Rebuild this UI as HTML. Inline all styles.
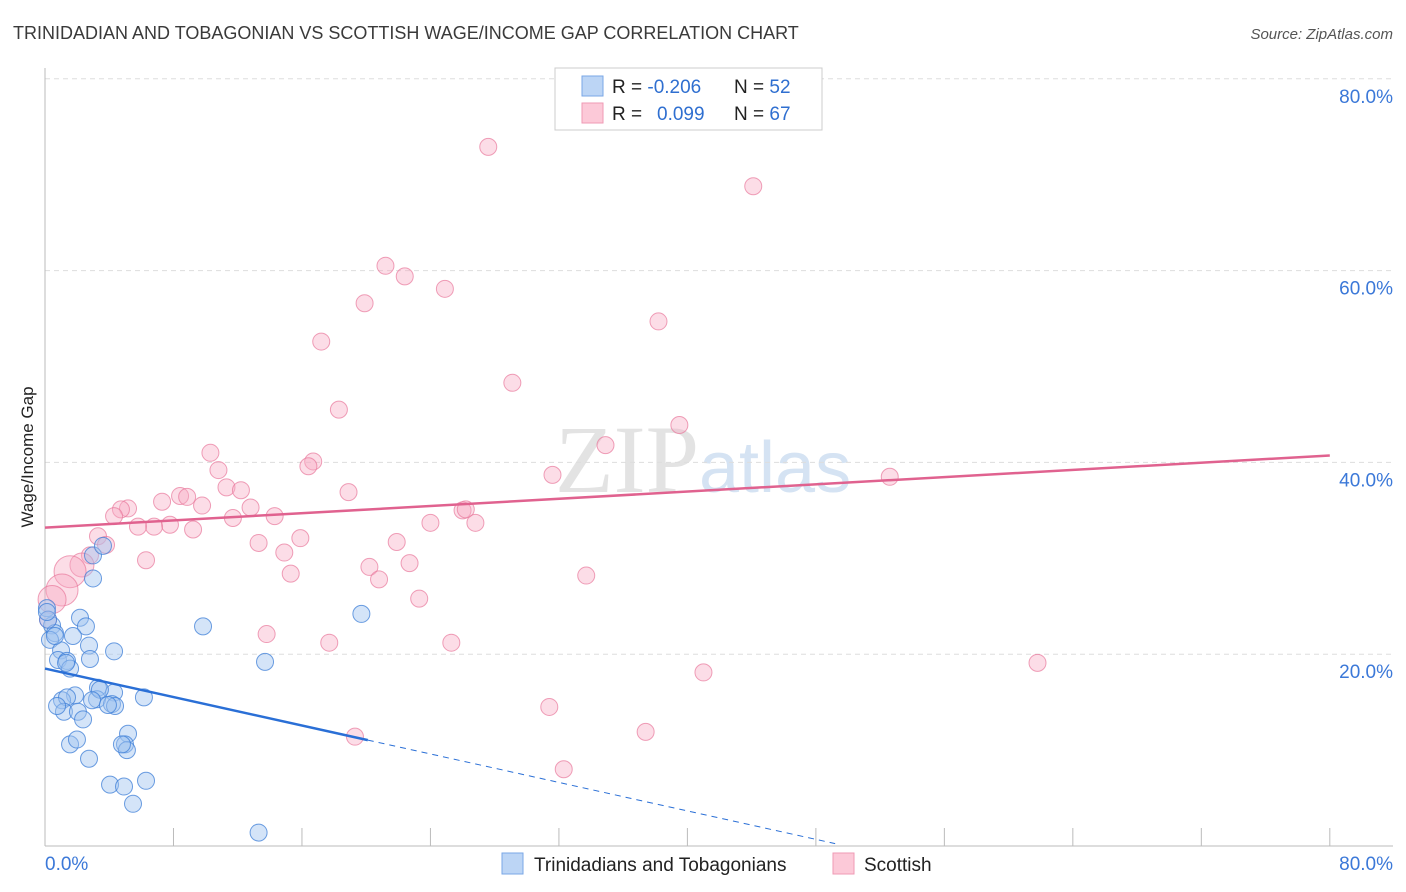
<!DOCTYPE html>
<html><head><meta charset="utf-8">
<style>
body{margin:0;background:#fff;font-family:"Liberation Sans",sans-serif;}
svg{display:block}
</style></head>
<body>
<svg id="chart" width="1406" height="892" viewBox="0 0 1406 892" xmlns="http://www.w3.org/2000/svg">
<text x="13" y="39" font-size="18" fill="#3a3a3a" font-family="Liberation Sans, sans-serif">TRINIDADIAN AND TOBAGONIAN VS SCOTTISH WAGE/INCOME GAP CORRELATION CHART</text>
<text x="1393" y="39" font-size="15" fill="#555" font-style="italic" text-anchor="end">Source: ZipAtlas.com</text>
<text x="555" y="492" font-size="96" fill="#e3e3e3" font-family="Liberation Serif, serif">ZIP<tspan fill="#d5e3f3" font-family="Liberation Sans, sans-serif" font-size="72">atlas</tspan></text>
<g id="grid"></g>
<g id="axes"></g>
<g id="marks"></g>
<text transform="translate(33,457) rotate(-90)" font-size="17" fill="#222" text-anchor="middle">Wage/Income Gap</text>
<g>
<rect x="555" y="68" width="267" height="62" fill="#fff" stroke="#ccc"/>
<rect x="582" y="76" width="21" height="20" fill="#bcd5f5" stroke="#7aa7e6"/>
<rect x="582" y="103" width="21" height="20" fill="#fcc9d8" stroke="#ef9ab4"/>
<text x="612" y="93" font-size="19" fill="#222">R = <tspan fill="#2f6fd0">-0.206</tspan></text>
<text x="734" y="93" font-size="19" fill="#222">N = <tspan fill="#2f6fd0">52</tspan></text>
<text x="612" y="120" font-size="19" fill="#222">R = </text>
<text x="657" y="120" font-size="19" fill="#2f6fd0">0.099</text>
<text x="734" y="120" font-size="19" fill="#222">N = <tspan fill="#2f6fd0">67</tspan></text>
</g>
<g>
<rect x="502" y="853" width="21" height="21" fill="#bcd5f5" stroke="#7aa7e6"/>
<text x="534" y="871" font-size="19" fill="#222">Trinidadians and Tobagonians</text>
<rect x="833" y="853" width="21" height="21" fill="#fcc9d8" stroke="#ef9ab4"/>
<text x="864" y="871" font-size="19" fill="#222">Scottish</text>
</g>
</svg>
<script>
const yTicks=[20,40,60,80];
const yTickLabels=["20.0%","40.0%","60.0%","80.0%"];
const xTickVals=[0,8,16,24,32,40,48,56,64,72,80];
const blueX=[2.99,3.61,2.99,0.12,0.44,0.62,0.31,2.18,2.55,1.74,2.74,1.0,0.81,1.37,1.56,2.8,4.3,9.84,13.7,19.7,1.87,1.06,1.37,1.18,2.05,2.37,3.3,3.24,4.3,4.17,4.36,6.16,1.56,1.99,2.74,5.17,4.98,5.1,4.79,4.05,4.92,6.29,5.48,13.3,3.42,2.93,0.19,0.62,0.12,1.31,0.75,3.92];
const blueY=[30.3,31.3,27.9,24.8,23.0,22.2,21.5,23.8,22.9,21.9,20.9,20.4,19.4,19.3,18.5,19.5,20.3,22.9,19.2,24.2,15.7,15.2,15.5,14.0,14.0,13.2,16.5,15.3,16.0,14.8,14.6,15.5,10.6,11.1,9.1,11.7,10.6,10.0,10.6,6.4,6.2,6.8,4.4,1.4,16.3,15.2,23.6,21.9,24.4,19.1,14.6,14.7];
const pinkX=[27.6,44.1,21.2,22.4,24.9,19.9,38.2,17.2,29.1,18.3,39.5,34.9,10.3,16.7,16.4,10.8,31.6,52.6,18.9,11.3,12.2,8.41,8.85,7.29,9.78,12.8,5.17,4.73,4.3,14.3,11.7,26.0,26.2,24.0,26.8,7.78,6.79,5.79,9.22,3.3,13.3,15.9,21.9,3.8,14.9,2.8,6.29,22.7,20.2,20.8,33.7,15.3,2.3,1.56,1.06,0.44,23.3,13.8,17.7,25.3,61.8,41.0,31.4,19.3,37.4,32.3,0.19];
const pinkY=[72.9,68.8,60.5,59.4,58.1,56.6,54.7,52.6,48.3,45.5,43.9,41.8,41.0,40.1,39.6,39.2,38.7,38.5,36.9,37.4,37.1,36.5,36.4,35.9,35.5,35.3,35.2,35.1,34.4,34.4,34.2,35.0,35.1,33.7,33.7,33.5,33.3,33.3,33.0,32.3,31.6,32.1,31.7,31.4,30.6,30.3,29.8,29.5,29.1,27.8,28.2,28.4,29.3,28.6,26.7,25.7,25.8,22.1,21.2,21.2,19.1,18.1,14.5,11.4,11.9,8.0,23.6];
const pinkBig={52:12,53:16,54:16,55:14};
const blueTrend=[18.5,-0.371];
const pinkTrend=[33.2,0.094];
const NS="http://www.w3.org/2000/svg";
const X=v=>45+v*16.06;
const Y=v=>846-v*9.59;
function mk(tag,attrs,parent){const e=document.createElementNS(NS,tag);for(const k in attrs)e.setAttribute(k,attrs[k]);parent.appendChild(e);return e;}
const grid=document.getElementById('grid'),axes=document.getElementById('axes'),marks=document.getElementById('marks');
yTicks.forEach((t,i)=>{
 const l=mk('line',{x1:45,x2:1393,y1:Y(t),y2:Y(t),stroke:'#ddd','stroke-dasharray':'5,4'},grid);
 
 
 const tx=mk('text',{x:1393,y:Y(t)+24,'font-size':19,fill:'#3b78d8','text-anchor':'end'},axes);
 tx.textContent=yTickLabels[i];
 
 
});
const ax=mk('line',{x1:45,x2:45,y1:68,y2:846,stroke:'#bbb'},axes);


const bx=mk('line',{x1:45,x2:1393,y1:846,y2:846,stroke:'#bbb'},axes);


xTickVals.forEach(t=>{
 const l=mk('line',{x1:X(t),x2:X(t),y1:828,y2:846,stroke:'#bbb'},axes);
 
 
});
const xl=mk('text',{x:45,y:870,'font-size':19,fill:'#3b78d8'},axes);xl.textContent='0.0%';


const xr=mk('text',{x:1393,y:870,'font-size':19,fill:'#3b78d8','text-anchor':'end'},axes);xr.textContent='80.0%';


pinkX.forEach((x,i)=>{
 const r=pinkBig[i]||8.5;
 const c=mk('circle',{cx:X(x),cy:Y(pinkY[i]),r:r,fill:'rgba(248,170,195,0.4)',stroke:'rgba(232,120,155,0.7)','stroke-width':1},marks);
 
 
});
blueX.forEach((x,i)=>{
 const c=mk('circle',{cx:X(x),cy:Y(blueY[i]),r:8.5,fill:'rgba(160,196,240,0.45)',stroke:'rgba(60,125,215,0.75)','stroke-width':1},marks);
 
 
});
const pt=mk('line',{x1:X(0),y1:Y(pinkTrend[0]),x2:X(80),y2:Y(pinkTrend[0]+pinkTrend[1]*80),stroke:'#e0628f','stroke-width':2.5},marks);


const bt=mk('line',{x1:X(0),y1:Y(blueTrend[0]),x2:X(20.1),y2:Y(blueTrend[0]+blueTrend[1]*20.1),stroke:'#2a6fd6','stroke-width':2.5},marks);


const bd=mk('line',{x1:X(20.1),y1:Y(blueTrend[0]+blueTrend[1]*20.1),x2:X(49.2),y2:Y(blueTrend[0]+blueTrend[1]*49.2),stroke:'#2a6fd6','stroke-width':1,'stroke-dasharray':'6,5'},marks);


</script>
</body></html>
